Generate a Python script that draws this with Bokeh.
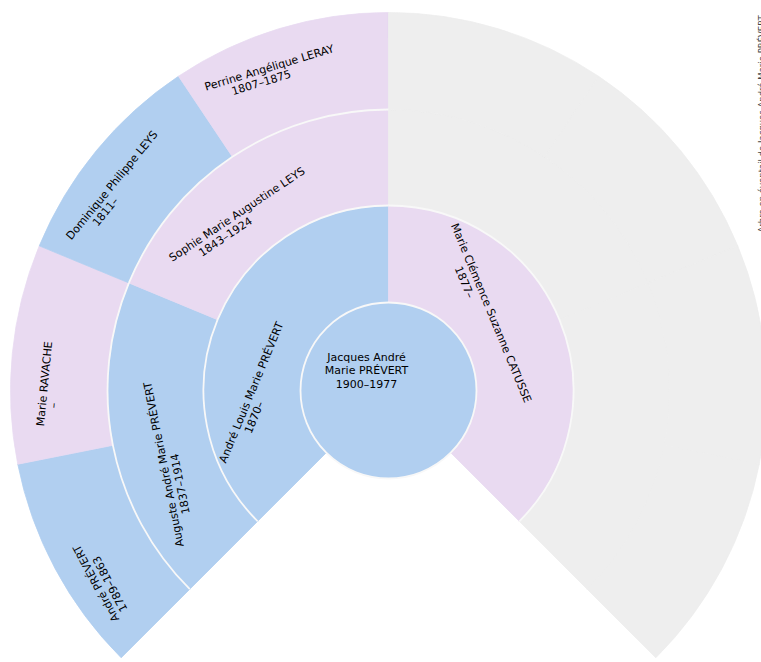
import math
from bokeh.plotting import figure
from bokeh.models import ColumnDataSource, Range1d
from bokeh.core.properties import value
from bokeh.embed import file_html
from bokeh.resources import INLINE

# ---------------- data ----------------
sosa = [1, 2, 3, 4, 5, 8, 9, 10, 11]
names = ["Jacques André\nMarie PRÉVERT",
         "André Louis Marie PRÉVERT",
         "Marie Clémence Suzanne CATUSSE",
         "Auguste André Marie PRÉVERT",
         "Sophie Marie Augustine LEYS",
         "André PRÉVERT",
         "Marie RAVACHE",
         "Dominique Philippe LEYS",
         "Perrine Angélique LERAY"]
dates = ["1900–1977", "1870–", "1877–", "1837–1914", "1843–1924",
         "1789–1863", "–", "1811–", "1807–1875"]
sex = ["M", "M", "F", "M", "F", "M", "F", "M", "F"]
n_generations = 4
side_note = "Arbre en éventail de Jacques André Marie PRÉVERT"

# ---------------- layout / style ----------------
FAN_START = 225.0
FAN_SPAN = 270.0
RING = [0, 88, 185, 281, 378]
SEX_COLOR = {"M": "#b1cff0", "F": "#e9daf1", "U": "#eeeeee"}
FONT = value("DejaVu Sans")
FONT_SIZE = "11px"
# per label nudges: angle offset (deg), radius, 2nd line along / perp offset
LABEL_LAYOUT = {2: (23.3, 137, -22, 12.3), 3: (14.6, 128.5, -38.5, 13.0),
                4: (6.95, 236.4, -22.3, 12.4), 5: (6.95, 232.2, -22.1, 12.3),
                8: (5.3, 350, -7, 12.0), 9: (4.5, 344, -20.6, 11.0),
                10: (2.8, 344.2, -24.6, 11.8), 11: (3.4, 343.9, -12, 12.0)}
CENTER_OFFSET = (-22, 19.5)
CX, CY = 388, 390          # fan centre in page pixels


def slot(s):
    g = int(math.floor(math.log2(s)))
    k = s - 2 ** g
    w = FAN_SPAN / 2 ** g
    hi = FAN_START - k * w
    return g, hi - w, hi


W, H = 761, 662
p = figure(width=W, height=H, x_range=Range1d(-CX, W - CX), y_range=Range1d(CY - H, CY),
           x_axis_type=None, y_axis_type=None, toolbar_location=None, output_backend="svg",
           min_border=0, outline_line_color=None, background_fill_color="white",
           border_fill_color="white")
p.grid.visible = False

known = dict(zip(sosa, sex))

# wedges (generation >= 1), unknown slots grey
wi, wo, ws, we, wc = [], [], [], [], []
for s in range(2, 2 ** n_generations):
    g, lo, hi = slot(s)
    wi.append(RING[g]); wo.append(RING[g + 1])
    ws.append(math.radians(lo)); we.append(math.radians(hi))
    wc.append(SEX_COLOR[known.get(s, "U")])
wsrc = ColumnDataSource(dict(inner=wi, outer=wo, start=ws, end=we, color=wc))
p.annular_wedge(x=0, y=0, inner_radius="inner", outer_radius="outer", start_angle="start",
                end_angle="end", direction="anticlock", fill_color="color", line_color="color",
                line_width=0.8, source=wsrc)

# center person
p.circle(x=0, y=0, radius=RING[1], fill_color=SEX_COLOR[sex[0]], line_color=None)

# white separators: outer arc of each known person with known ring beyond
ar, a0, a1 = [], [], []
for s in sosa:
    g, lo, hi = slot(s)
    if g + 1 >= n_generations:
        continue
    if g == 0:
        lo, hi = 0, 360
    ar.append(RING[g + 1]); a0.append(math.radians(lo)); a1.append(math.radians(hi))
p.arc(x=0, y=0, radius=ar, start_angle=a0, end_angle=a1, direction="anticlock",
      line_color="#f8f8f8", line_width=1.8)

# labels
l1x, l1y, l2x, l2y, ang, t1, t2 = [], [], [], [], [], [], []
for s, nm, dt in zip(sosa, names, dates):
    g, lo, hi = slot(s)
    if g == 0:
        continue
    mid = (lo + hi) / 2
    da, r, along, perp = LABEL_LAYOUT[s]
    th = math.radians(mid + da)
    a = math.radians(mid - 90)
    x1, y1 = r * math.cos(th), r * math.sin(th)
    ux, uy = math.cos(a), math.sin(a)
    dx, dy = math.sin(a), -math.cos(a)
    l1x.append(x1); l1y.append(y1)
    l2x.append(x1 + along * ux + perp * dx); l2y.append(y1 + along * uy + perp * dy)
    ang.append(a); t1.append(nm); t2.append(dt)

p.text(x=l1x, y=l1y, text=t1, angle=ang, text_align="center", text_baseline="middle",
       text_font=FONT, text_font_size=FONT_SIZE, text_color="#000000")
p.text(x=l2x, y=l2y, text=t2, angle=ang, text_align="center", text_baseline="middle",
       text_font=FONT, text_font_size=FONT_SIZE, text_color="#000000")

p.text(x=[CENTER_OFFSET[0]], y=[CENTER_OFFSET[1]], text=[names[0] + "\n" + dates[0]],
       text_align="center", text_baseline="middle", text_font=FONT, text_font_size=FONT_SIZE,
       text_color="#000000", text_line_height=1.05)

# clipped vertical note at the right edge
p.text(x=[W - CX - 5], y=[158], text=[side_note], angle=math.pi / 2, text_align="left",
       text_baseline="top", text_font=FONT, text_font_size="8.5px", text_color="#444444")

open("out.html", "w").write(file_html(p, INLINE))
